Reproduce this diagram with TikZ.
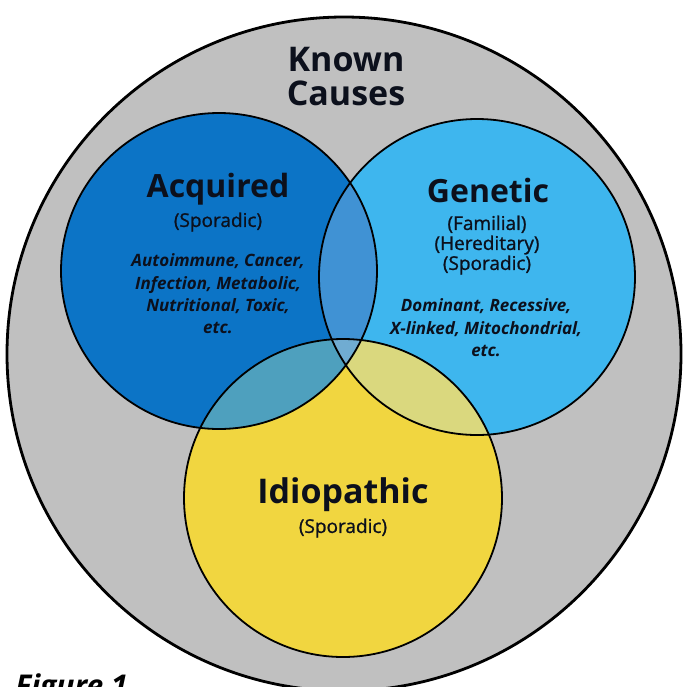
\documentclass[tikz,border=0pt]{standalone}
\usepackage{fontspec}
\setmainfont{Open Sans}
\usetikzlibrary{positioning}
\definecolor{kgray}{RGB}{192, 192, 192}
\definecolor{acqblue}{RGB}{12, 116, 198}
\definecolor{genblue}{RGB}{62, 182, 238}
\definecolor{idiyellow}{RGB}{241, 214, 64}
\definecolor{agblue}{RGB}{64, 146, 212}
\definecolor{aiteal}{RGB}{78, 160, 190}
\definecolor{gikhaki}{RGB}{218, 216, 126}
\definecolor{agiblue}{RGB}{112, 172, 210}
\definecolor{ink}{RGB}{12, 16, 28}
\tikzset{ring/.style = {draw = black, line width = 0.9pt}}
\tikzset{title/.style = {font = \bfseries\fontsize{16}{17}\selectfont, text = ink, inner sep = 0}}
\tikzset{sub/.style = {font = \fontsize{9.5}{10}\selectfont\addfontfeatures{FakeBold = 1}, text = ink, align = center, inner sep = 0}}
\tikzset{causes/.style = {font = \bfseries\itshape\fontsize{8.5}{11.2}\selectfont, text = ink, align = center, inner sep = 0}}

\begin{document}
\begin{tikzpicture}[x = 0.5pt, y = -0.5pt]
      \useasboundingbox (0, 0) rectangle (685, 687);
      \coordinate (known) at (344, 354);
      \coordinate (acq) at (219, 271);
      \coordinate (gen) at (477, 277);
      \coordinate (idi) at (343, 498);
      \draw [fill = kgray, line width = 1.4pt] (known) circle (337);
      \fill [acqblue] (acq) circle (158);
      \fill [genblue] (gen) circle (158);
      \fill [idiyellow] (idi) circle (159);
      % overlaps
      \begin{scope}
        \clip (acq) circle (158);
        \fill [agblue] (gen) circle (158);
        \fill [aiteal] (idi) circle (159);
      \end{scope}
      \begin{scope}
        \clip (gen) circle (158);
        \fill [gikhaki] (idi) circle (159);
        \clip (acq) circle (158);
        \fill [agiblue] (idi) circle (159);
      \end{scope}
      \draw [ring] (acq) circle (158);
      \draw [ring] (gen) circle (158);
      \draw [ring] (idi) circle (159);
      % texts
      \node [title, align = center, font = \bfseries\fontsize{17}{17}\selectfont] (knownlabel) at (346, 77) {Known\\Causes};
      \node [title] (acqlabel) at (218, 189) {Acquired};
      \node [sub] (acqsub) at (218, 222) {(Sporadic)};
      \node [causes] (acqcauses) at (218, 294) {Autoimmune, Cancer,\\Infection, Metabolic,\\Nutritional, Toxic,\\etc.};
      \node [title] (genlabel) at (488, 190) {Genetic};
      \node [sub] (gensub) at (487, 245) {(Familial)\\(Hereditary)\\(Sporadic)};
      \node [causes] (gencauses) at (486, 328) {Dominant, Recessive,\\X-linked, Mitochondrial,\\etc.};
      \node [title, font = \bfseries\fontsize{17}{17}\selectfont] (idilabel) at (343, 495) {Idiopathic};
      \node [sub] (idisub) at (343, 528) {(Sporadic)};
      \node [anchor = north west, inner sep = 0, font = \bfseries\itshape\fontsize{15}{15}\selectfont] (figlabel) at (15, 673) {Figure 1};
    \end{tikzpicture}
\end{document}
